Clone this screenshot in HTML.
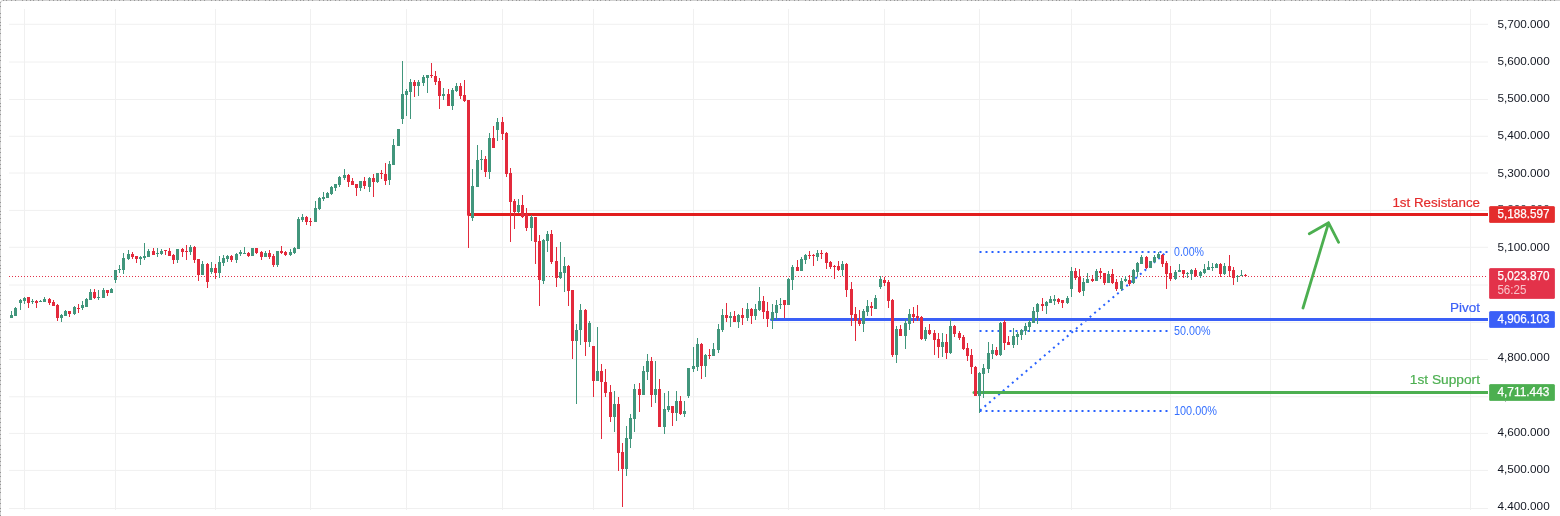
<!DOCTYPE html>
<html lang="en">
<head>
<meta charset="utf-8">
<title>Chart</title>
<style>
html,body{margin:0;padding:0;background:#fff;}
body{width:1560px;height:516px;overflow:hidden;font-family:"Liberation Sans",Arial,sans-serif;}
svg{display:block;}
</style>
</head>
<body>
<svg width="1560" height="516" viewBox="0 0 1560 516" font-family="Liberation Sans, Arial, sans-serif">
<rect x="0" y="0" width="1560" height="516" fill="#ffffff"/>
<!-- frame -->
<path d="M0.5 516V3Q0.5 0.5 3 0.5H1560" fill="none" stroke="#d2d2d2" stroke-width="1"/>
<path d="M0.5 516V3Q0.5 0.5 3 0.5H1560" fill="none" stroke="#969696" stroke-width="1" stroke-dasharray="1 3 1 2 1 4 1 3 1 6 1 3"/>
<!-- grid -->
<path d="M24.5 9V510M115.5 9V510M215.5 9V510M310.5 9V510M406.5 9V510M502.5 9V510M593.5 9V510M693.5 9V510M788.5 9V510M884.5 9V510M979.5 9V510M1071.5 9V510M1170.5 9V510M1270.5 9V510M1370.5 9V510M1470.5 9V510M9 508.5H1488M9 470.4H1488M9 433.4H1488M9 396.8H1488M9 359.5H1488M9 322.3H1488M9 285.0H1488M9 247.3H1488M9 210.4H1488M9 173.0H1488M9 136.3H1488M9 99.5H1488M9 62.0H1488M9 24.3H1488" stroke="#f0f0f0" stroke-width="1" fill="none"/>
<!-- last price line -->
<path d="M9 276.5H1488" stroke="#e3324a" stroke-width="1" stroke-dasharray="1 2" fill="none"/>
<!-- fib -->
<g stroke="#2962ff" stroke-width="2" stroke-dasharray="2 4" fill="none">
<path d="M979.5 252H1168"/>
<path d="M979.5 331H1168"/>
<path d="M979.5 411H1168"/>
<path d="M980 410.5L1166.5 252"/>
</g>
<g fill="#3570ff" font-size="12">
<text x="1174" y="256" textLength="30" lengthAdjust="spacingAndGlyphs">0.00%</text>
<text x="1174" y="335" textLength="36.5" lengthAdjust="spacingAndGlyphs">50.00%</text>
<text x="1174" y="415" textLength="43" lengthAdjust="spacingAndGlyphs">100.00%</text>
</g>
<!-- levels -->
<g fill="none" stroke-width="3" stroke-linecap="butt">
<path d="M468.5 214.5H1488" stroke="#e21e1e"/>
<path d="M771.5 319.5H1488" stroke="#3a5ff7"/>
<path d="M974 392.5H1488" stroke="#4caf50"/>
</g>
<circle cx="468.5" cy="214.5" r="1.5" fill="#e21e1e"/>
<circle cx="771.5" cy="319.5" r="1.5" fill="#3a5ff7"/>
<circle cx="974" cy="392.5" r="1.5" fill="#4caf50"/>
<!-- candles -->
<path d="M11 311h1V315h1V318h-1V318h-1V318h-1V315h1zM15 307h1V308h1V316h-1V316h-1V316h-1V308h1zM20 299h1V300h1V303h-1V310h-1V303h-1V300h1zM24 297h1V298h1V301h-1V304h-1V301h-1V298h1zM32 299h1V301h1V302h-1V304h-1V302h-1V301h1zM40 300h1V301h1V302h-1V302h-1V302h-1V301h1zM44 297h1V299h1V302h-1V302h-1V302h-1V299h1zM61 314h1V315h1V318h-1V322h-1V318h-1V315h1zM65 310h1V311h1V316h-1V316h-1V316h-1V311h1zM74 306h1V307h1V314h-1V315h-1V314h-1V307h1zM82 301h1V305h1V308h-1V310h-1V308h-1V305h1zM86 298h1V299h1V307h-1V307h-1V307h-1V299h1zM90 289h1V292h1V300h-1V300h-1V300h-1V292h1zM98 290h1V297h1V298h-1V300h-1V298h-1V297h1zM103 288h1V290h1V298h-1V298h-1V298h-1V290h1zM111 288h1V289h1V293h-1V293h-1V293h-1V289h1zM115 270h1V270h1V280h-1V283h-1V280h-1V270h1zM119 265h1V269h1V270h-1V273h-1V270h-1V269h1zM123 253h1V258h1V270h-1V274h-1V270h-1V258h1zM128 250h1V254h1V259h-1V260h-1V259h-1V254h1zM140 256h1V257h1V259h-1V265h-1V259h-1V257h1zM144 243h1V256h1V258h-1V260h-1V258h-1V256h1zM148 249h1V251h1V257h-1V257h-1V257h-1V251h1zM157 248h1V253h1V254h-1V257h-1V254h-1V253h1zM161 249h1V251h1V254h-1V255h-1V254h-1V251h1zM177 249h1V249h1V260h-1V263h-1V260h-1V249h1zM190 245h1V247h1V252h-1V255h-1V252h-1V247h1zM202 261h1V264h1V275h-1V275h-1V275h-1V264h1zM211 262h1V268h1V272h-1V274h-1V272h-1V268h1zM219 256h1V262h1V273h-1V278h-1V273h-1V262h1zM223 255h1V258h1V263h-1V266h-1V263h-1V258h1zM227 255h1V256h1V259h-1V262h-1V259h-1V256h1zM236 253h1V254h1V260h-1V263h-1V260h-1V254h1zM240 250h1V252h1V254h-1V256h-1V254h-1V252h1zM244 247h1V253h1V254h-1V254h-1V254h-1V253h1zM252 248h1V248h1V256h-1V256h-1V256h-1V248h1zM265 251h1V253h1V257h-1V257h-1V257h-1V253h1zM277 251h1V251h1V265h-1V267h-1V265h-1V251h1zM290 249h1V252h1V255h-1V256h-1V255h-1V252h1zM294 247h1V248h1V253h-1V254h-1V253h-1V248h1zM298 217h1V219h1V249h-1V249h-1V249h-1V219h1zM302 214h1V217h1V220h-1V222h-1V220h-1V217h1zM315 201h1V208h1V222h-1V222h-1V222h-1V208h1zM319 197h1V198h1V209h-1V210h-1V209h-1V198h1zM323 192h1V197h1V199h-1V201h-1V199h-1V197h1zM327 192h1V193h1V198h-1V198h-1V198h-1V193h1zM331 186h1V187h1V194h-1V195h-1V194h-1V187h1zM335 184h1V184h1V188h-1V191h-1V188h-1V184h1zM339 176h1V177h1V185h-1V187h-1V185h-1V177h1zM344 169h1V175h1V178h-1V180h-1V178h-1V175h1zM360 181h1V181h1V188h-1V191h-1V188h-1V181h1zM369 177h1V178h1V187h-1V192h-1V187h-1V178h1zM377 173h1V173h1V182h-1V183h-1V182h-1V173h1zM389 161h1V164h1V180h-1V185h-1V180h-1V164h1zM393 139h1V145h1V165h-1V165h-1V165h-1V145h1zM398 129h1V129h1V146h-1V146h-1V146h-1V129h1zM402 61h1V94h1V119h-1V124h-1V119h-1V94h1zM406 89h1V91h1V95h-1V116h-1V95h-1V91h1zM410 79h1V82h1V92h-1V119h-1V92h-1V82h1zM418 80h1V82h1V86h-1V96h-1V86h-1V82h1zM423 75h1V77h1V83h-1V86h-1V83h-1V77h1zM427 75h1V75h1V78h-1V93h-1V78h-1V75h1zM443 88h1V94h1V96h-1V100h-1V96h-1V94h1zM452 88h1V90h1V106h-1V110h-1V106h-1V90h1zM456 83h1V86h1V91h-1V92h-1V91h-1V86h1zM472 169h1V186h1V218h-1V221h-1V218h-1V186h1zM477 145h1V160h1V187h-1V187h-1V187h-1V160h1zM481 150h1V159h1V160h-1V170h-1V160h-1V159h1zM489 133h1V138h1V172h-1V179h-1V172h-1V138h1zM497 118h1V122h1V130h-1V141h-1V130h-1V122h1zM518 199h1V205h1V212h-1V213h-1V212h-1V205h1zM531 215h1V217h1V228h-1V241h-1V228h-1V217h1zM543 239h1V240h1V281h-1V284h-1V281h-1V240h1zM547 231h1V234h1V241h-1V252h-1V241h-1V234h1zM560 242h1V272h1V278h-1V279h-1V278h-1V272h1zM564 257h1V266h1V273h-1V292h-1V273h-1V266h1zM576 324h1V330h1V341h-1V404h-1V341h-1V330h1zM580 304h1V310h1V330h-1V345h-1V330h-1V310h1zM589 321h1V323h1V342h-1V347h-1V342h-1V323h1zM597 327h1V371h1V381h-1V381h-1V381h-1V371h1zM614 391h1V404h1V417h-1V432h-1V417h-1V404h1zM626 426h1V438h1V469h-1V476h-1V469h-1V438h1zM630 414h1V418h1V439h-1V448h-1V439h-1V418h1zM634 384h1V389h1V419h-1V432h-1V419h-1V389h1zM643 366h1V371h1V395h-1V395h-1V395h-1V371h1zM647 354h1V361h1V372h-1V380h-1V372h-1V361h1zM655 361h1V389h1V395h-1V403h-1V395h-1V389h1zM664 393h1V409h1V427h-1V434h-1V427h-1V409h1zM668 391h1V406h1V410h-1V412h-1V410h-1V406h1zM676 391h1V401h1V413h-1V421h-1V413h-1V401h1zM684 401h1V411h1V414h-1V417h-1V414h-1V411h1zM688 368h1V368h1V396h-1V398h-1V396h-1V368h1zM693 347h1V366h1V369h-1V372h-1V369h-1V366h1zM697 338h1V344h1V367h-1V371h-1V367h-1V344h1zM705 354h1V355h1V366h-1V377h-1V366h-1V355h1zM713 343h1V349h1V356h-1V356h-1V356h-1V349h1zM718 324h1V329h1V350h-1V353h-1V350h-1V329h1zM722 309h1V315h1V330h-1V332h-1V330h-1V315h1zM730 312h1V316h1V318h-1V327h-1V318h-1V316h1zM738 314h1V315h1V322h-1V328h-1V322h-1V315h1zM747 303h1V309h1V318h-1V321h-1V318h-1V309h1zM755 304h1V309h1V316h-1V320h-1V316h-1V309h1zM759 287h1V301h1V310h-1V311h-1V310h-1V301h1zM772 304h1V312h1V320h-1V329h-1V320h-1V312h1zM776 300h1V305h1V313h-1V320h-1V313h-1V305h1zM780 298h1V304h1V305h-1V309h-1V305h-1V304h1zM788 278h1V279h1V305h-1V305h-1V305h-1V279h1zM792 265h1V267h1V280h-1V290h-1V280h-1V267h1zM801 257h1V259h1V271h-1V271h-1V271h-1V259h1zM805 254h1V255h1V260h-1V264h-1V260h-1V255h1zM817 250h1V253h1V257h-1V261h-1V257h-1V253h1zM842 261h1V264h1V270h-1V276h-1V270h-1V264h1zM863 309h1V311h1V324h-1V332h-1V324h-1V311h1zM867 300h1V306h1V312h-1V316h-1V312h-1V306h1zM875 295h1V298h1V309h-1V309h-1V309h-1V298h1zM880 276h1V279h1V287h-1V289h-1V287h-1V279h1zM896 326h1V329h1V355h-1V363h-1V355h-1V329h1zM905 319h1V323h1V336h-1V349h-1V336h-1V323h1zM909 309h1V314h1V324h-1V330h-1V324h-1V314h1zM925 327h1V330h1V339h-1V341h-1V339h-1V330h1zM942 333h1V342h1V347h-1V357h-1V347h-1V342h1zM950 319h1V326h1V353h-1V354h-1V353h-1V326h1zM979 372h1V373h1V396h-1V413h-1V396h-1V373h1zM983 364h1V368h1V374h-1V398h-1V374h-1V368h1zM988 342h1V353h1V369h-1V373h-1V369h-1V353h1zM992 344h1V350h1V354h-1V359h-1V354h-1V350h1zM1000 322h1V323h1V355h-1V356h-1V355h-1V323h1zM1013 328h1V336h1V345h-1V348h-1V345h-1V336h1zM1017 332h1V334h1V337h-1V345h-1V337h-1V334h1zM1021 329h1V330h1V335h-1V340h-1V335h-1V330h1zM1025 323h1V326h1V331h-1V335h-1V331h-1V326h1zM1029 320h1V322h1V327h-1V332h-1V327h-1V322h1zM1033 307h1V311h1V323h-1V323h-1V323h-1V311h1zM1037 303h1V304h1V312h-1V324h-1V312h-1V304h1zM1046 301h1V302h1V306h-1V314h-1V306h-1V302h1zM1050 296h1V299h1V303h-1V303h-1V303h-1V299h1zM1054 295h1V299h1V301h-1V305h-1V301h-1V299h1zM1067 296h1V298h1V303h-1V304h-1V303h-1V298h1zM1071 267h1V271h1V289h-1V297h-1V289h-1V271h1zM1083 278h1V282h1V291h-1V296h-1V291h-1V282h1zM1087 273h1V279h1V283h-1V283h-1V283h-1V279h1zM1096 269h1V271h1V281h-1V281h-1V281h-1V271h1zM1108 271h1V274h1V283h-1V283h-1V283h-1V274h1zM1121 278h1V281h1V289h-1V291h-1V289h-1V281h1zM1125 276h1V279h1V281h-1V282h-1V281h-1V279h1zM1133 269h1V270h1V283h-1V284h-1V283h-1V270h1zM1137 262h1V263h1V272h-1V277h-1V272h-1V263h1zM1141 255h1V257h1V264h-1V264h-1V264h-1V257h1zM1150 261h1V261h1V268h-1V268h-1V268h-1V261h1zM1154 255h1V257h1V262h-1V263h-1V262h-1V257h1zM1158 252h1V254h1V258h-1V259h-1V258h-1V254h1zM1175 270h1V272h1V279h-1V280h-1V279h-1V272h1zM1179 264h1V270h1V272h-1V272h-1V272h-1V270h1zM1187 272h1V273h1V274h-1V278h-1V274h-1V273h1zM1191 269h1V270h1V274h-1V280h-1V274h-1V270h1zM1200 271h1V272h1V276h-1V278h-1V276h-1V272h1zM1204 264h1V269h1V273h-1V274h-1V273h-1V269h1zM1208 261h1V267h1V270h-1V270h-1V270h-1V267h1zM1212 263h1V267h1V268h-1V271h-1V268h-1V267h1zM1216 263h1V264h1V268h-1V268h-1V268h-1V264h1zM1224 263h1V266h1V274h-1V275h-1V274h-1V266h1zM1237 275h1V276h1V277h-1V282h-1V277h-1V276h1zM1241 270h1V275h1V276h-1V276h-1V276h-1V275h1z" fill="#41967c"/>
<path d="M28 297h1V297h1V303h-1V308h-1V303h-1V297h1zM36 300h1V301h1V303h-1V308h-1V303h-1V301h1zM49 298h1V299h1V303h-1V305h-1V303h-1V299h1zM53 300h1V302h1V306h-1V306h-1V306h-1V302h1zM57 304h1V305h1V318h-1V321h-1V318h-1V305h1zM69 311h1V311h1V314h-1V317h-1V314h-1V311h1zM78 304h1V308h1V309h-1V313h-1V309h-1V308h1zM94 289h1V292h1V298h-1V299h-1V298h-1V292h1zM107 290h1V290h1V293h-1V296h-1V293h-1V290h1zM132 252h1V254h1V257h-1V259h-1V257h-1V254h1zM136 256h1V256h1V259h-1V263h-1V259h-1V256h1zM153 248h1V251h1V255h-1V255h-1V255h-1V251h1zM165 250h1V250h1V251h-1V255h-1V251h-1V250h1zM169 248h1V251h1V256h-1V256h-1V256h-1V251h1zM173 254h1V255h1V260h-1V264h-1V260h-1V255h1zM182 248h1V249h1V252h-1V257h-1V252h-1V249h1zM186 245h1V251h1V252h-1V260h-1V252h-1V251h1zM194 246h1V247h1V260h-1V263h-1V260h-1V247h1zM198 259h1V259h1V275h-1V281h-1V275h-1V259h1zM207 263h1V264h1V282h-1V288h-1V282h-1V264h1zM215 264h1V268h1V273h-1V279h-1V273h-1V268h1zM231 255h1V256h1V260h-1V262h-1V260h-1V256h1zM248 252h1V253h1V256h-1V257h-1V256h-1V253h1zM256 248h1V248h1V253h-1V254h-1V253h-1V248h1zM261 251h1V252h1V257h-1V260h-1V257h-1V252h1zM269 250h1V253h1V257h-1V259h-1V257h-1V253h1zM273 254h1V256h1V265h-1V267h-1V265h-1V256h1zM281 246h1V251h1V253h-1V254h-1V253h-1V251h1zM285 251h1V252h1V255h-1V256h-1V255h-1V252h1zM306 216h1V217h1V222h-1V225h-1V222h-1V217h1zM310 218h1V221h1V222h-1V226h-1V222h-1V221h1zM348 174h1V175h1V182h-1V187h-1V182h-1V175h1zM352 178h1V181h1V185h-1V185h-1V185h-1V181h1zM356 184h1V184h1V188h-1V196h-1V188h-1V184h1zM364 177h1V181h1V186h-1V189h-1V186h-1V181h1zM373 174h1V178h1V182h-1V197h-1V182h-1V178h1zM381 170h1V173h1V174h-1V179h-1V174h-1V173h1zM385 163h1V174h1V181h-1V185h-1V181h-1V174h1zM414 80h1V82h1V86h-1V97h-1V86h-1V82h1zM431 63h1V75h1V76h-1V78h-1V76h-1V75h1zM435 71h1V76h1V82h-1V85h-1V82h-1V76h1zM439 78h1V81h1V96h-1V109h-1V96h-1V81h1zM448 89h1V94h1V106h-1V106h-1V106h-1V94h1zM460 83h1V86h1V96h-1V99h-1V96h-1V86h1zM464 80h1V95h1V101h-1V102h-1V101h-1V95h1zM468 100h1V100h1V215h-1V248h-1V215h-1V100h1zM485 156h1V159h1V172h-1V177h-1V172h-1V159h1zM493 126h1V138h1V148h-1V148h-1V148h-1V138h1zM502 117h1V122h1V134h-1V140h-1V134h-1V122h1zM506 132h1V133h1V174h-1V177h-1V174h-1V133h1zM510 168h1V173h1V202h-1V242h-1V202h-1V173h1zM514 199h1V201h1V212h-1V229h-1V212h-1V201h1zM522 195h1V205h1V217h-1V218h-1V217h-1V205h1zM526 208h1V214h1V228h-1V231h-1V228h-1V214h1zM535 217h1V217h1V242h-1V264h-1V242h-1V217h1zM539 235h1V241h1V280h-1V306h-1V280h-1V241h1zM551 230h1V234h1V262h-1V264h-1V262h-1V234h1zM556 247h1V261h1V278h-1V287h-1V278h-1V261h1zM568 265h1V266h1V291h-1V306h-1V291h-1V266h1zM572 290h1V290h1V341h-1V359h-1V341h-1V290h1zM585 309h1V310h1V342h-1V356h-1V342h-1V310h1zM593 346h1V346h1V381h-1V397h-1V381h-1V346h1zM601 364h1V371h1V382h-1V439h-1V382h-1V371h1zM605 369h1V382h1V393h-1V397h-1V393h-1V382h1zM610 385h1V392h1V417h-1V422h-1V417h-1V392h1zM618 397h1V404h1V453h-1V471h-1V453h-1V404h1zM622 443h1V452h1V469h-1V507h-1V469h-1V452h1zM639 383h1V389h1V395h-1V412h-1V395h-1V389h1zM651 357h1V361h1V395h-1V407h-1V395h-1V361h1zM659 379h1V389h1V427h-1V427h-1V427h-1V389h1zM672 406h1V406h1V413h-1V426h-1V413h-1V406h1zM680 396h1V401h1V414h-1V415h-1V414h-1V401h1zM701 343h1V344h1V366h-1V379h-1V366h-1V344h1zM709 349h1V355h1V356h-1V359h-1V356h-1V355h1zM726 303h1V315h1V318h-1V322h-1V318h-1V315h1zM734 311h1V316h1V322h-1V322h-1V322h-1V316h1zM742 308h1V315h1V318h-1V325h-1V318h-1V315h1zM751 308h1V309h1V316h-1V324h-1V316h-1V309h1zM763 296h1V301h1V312h-1V319h-1V312h-1V301h1zM767 302h1V311h1V319h-1V327h-1V319h-1V311h1zM784 300h1V300h1V305h-1V318h-1V305h-1V300h1zM797 260h1V267h1V271h-1V271h-1V271h-1V267h1zM809 251h1V255h1V256h-1V259h-1V256h-1V255h1zM813 254h1V255h1V256h-1V266h-1V256h-1V255h1zM821 250h1V253h1V254h-1V259h-1V254h-1V253h1zM826 252h1V253h1V263h-1V269h-1V263h-1V253h1zM830 261h1V262h1V267h-1V269h-1V267h-1V262h1zM834 265h1V266h1V267h-1V279h-1V267h-1V266h1zM838 261h1V266h1V270h-1V271h-1V270h-1V266h1zM846 263h1V264h1V290h-1V297h-1V290h-1V264h1zM851 282h1V289h1V315h-1V326h-1V315h-1V289h1zM855 307h1V314h1V321h-1V341h-1V321h-1V314h1zM859 310h1V320h1V324h-1V326h-1V324h-1V320h1zM871 302h1V306h1V308h-1V316h-1V308h-1V306h1zM884 277h1V280h1V283h-1V286h-1V283h-1V280h1zM888 280h1V282h1V301h-1V308h-1V301h-1V282h1zM892 299h1V300h1V355h-1V357h-1V355h-1V300h1zM900 325h1V329h1V336h-1V336h-1V336h-1V329h1zM913 307h1V314h1V317h-1V323h-1V317h-1V314h1zM917 305h1V316h1V318h-1V321h-1V318h-1V316h1zM921 316h1V317h1V339h-1V340h-1V339h-1V317h1zM929 324h1V330h1V334h-1V335h-1V334h-1V330h1zM934 330h1V333h1V340h-1V355h-1V340h-1V333h1zM938 333h1V339h1V347h-1V358h-1V347h-1V339h1zM946 334h1V342h1V353h-1V359h-1V353h-1V342h1zM954 325h1V326h1V334h-1V337h-1V334h-1V326h1zM959 331h1V333h1V338h-1V340h-1V338h-1V333h1zM963 335h1V337h1V349h-1V350h-1V349h-1V337h1zM967 343h1V348h1V356h-1V361h-1V356h-1V348h1zM971 349h1V355h1V367h-1V374h-1V367h-1V355h1zM975 366h1V367h1V396h-1V396h-1V396h-1V367h1zM996 347h1V350h1V355h-1V356h-1V355h-1V350h1zM1004 320h1V322h1V343h-1V350h-1V343h-1V322h1zM1008 336h1V342h1V345h-1V345h-1V345h-1V342h1zM1042 298h1V304h1V306h-1V311h-1V306h-1V304h1zM1058 298h1V299h1V302h-1V304h-1V302h-1V299h1zM1062 300h1V300h1V303h-1V308h-1V303h-1V300h1zM1075 268h1V271h1V278h-1V280h-1V278h-1V271h1zM1079 269h1V277h1V292h-1V293h-1V292h-1V277h1zM1092 275h1V279h1V281h-1V282h-1V281h-1V279h1zM1100 268h1V271h1V273h-1V279h-1V273h-1V271h1zM1104 273h1V273h1V283h-1V285h-1V283h-1V273h1zM1112 269h1V274h1V283h-1V284h-1V283h-1V274h1zM1116 279h1V282h1V289h-1V291h-1V289h-1V282h1zM1129 275h1V280h1V284h-1V286h-1V284h-1V280h1zM1146 256h1V257h1V268h-1V269h-1V268h-1V257h1zM1162 254h1V255h1V264h-1V267h-1V264h-1V255h1zM1166 261h1V263h1V274h-1V289h-1V274h-1V263h1zM1170 266h1V273h1V279h-1V281h-1V279h-1V273h1zM1183 270h1V270h1V274h-1V278h-1V274h-1V270h1zM1195 268h1V270h1V276h-1V277h-1V276h-1V270h1zM1220 263h1V264h1V274h-1V277h-1V274h-1V264h1zM1229 255h1V266h1V271h-1V277h-1V271h-1V266h1zM1233 267h1V270h1V278h-1V285h-1V278h-1V270h1zM1245 274h1V275h1V276h-1V276h-1V276h-1V275h1z" fill="#e32a3c"/>
<g font-size="13.3" text-anchor="end">
<text x="1480" y="207" fill="#e42c2c" stroke="#e42c2c" stroke-width="0.2" textLength="87.6" lengthAdjust="spacingAndGlyphs">1st Resistance</text>
<text x="1480" y="312" fill="#3a5ff7" stroke="#3a5ff7" stroke-width="0.2" textLength="30" lengthAdjust="spacingAndGlyphs">Pivot</text>
<text x="1480" y="384" fill="#4caf50" stroke="#4caf50" stroke-width="0.2" textLength="70.2" lengthAdjust="spacingAndGlyphs">1st Support</text>
</g>
<!-- arrow -->
<path d="M1303 308L1328.6 222.8M1309.3 233.7L1328.6 222.8L1338.6 242.3" fill="none" stroke="#4caf50" stroke-width="2.8" stroke-linecap="round" stroke-linejoin="round"/>
<!-- price axis -->
<g clip-path="url(#axclip)">
<g fill="#131722" font-size="11.8">
<text x="1497.4" y="510.2" textLength="52.3" lengthAdjust="spacingAndGlyphs">4,400.000</text>
<text x="1497.4" y="473.3" textLength="52.3" lengthAdjust="spacingAndGlyphs">4,500.000</text>
<text x="1497.4" y="436.3" textLength="52.3" lengthAdjust="spacingAndGlyphs">4,600.000</text>
<text x="1497.4" y="399.7" textLength="52.3" lengthAdjust="spacingAndGlyphs">4,700.000</text>
<text x="1497.4" y="361.4" textLength="52.3" lengthAdjust="spacingAndGlyphs">4,800.000</text>
<text x="1497.4" y="325.2" textLength="52.3" lengthAdjust="spacingAndGlyphs">4,900.000</text>
<text x="1497.4" y="288.0" textLength="52.3" lengthAdjust="spacingAndGlyphs">5,000.000</text>
<text x="1497.4" y="250.8" textLength="52.3" lengthAdjust="spacingAndGlyphs">5,100.000</text>
<text x="1497.4" y="212.8" textLength="52.3" lengthAdjust="spacingAndGlyphs">5,200.000</text>
<text x="1497.4" y="176.6" textLength="52.3" lengthAdjust="spacingAndGlyphs">5,300.000</text>
<text x="1497.4" y="138.8" textLength="52.3" lengthAdjust="spacingAndGlyphs">5,400.000</text>
<text x="1497.4" y="101.8" textLength="52.3" lengthAdjust="spacingAndGlyphs">5,500.000</text>
<text x="1497.4" y="64.5" textLength="52.3" lengthAdjust="spacingAndGlyphs">5,600.000</text>
<text x="1497.4" y="27.5" textLength="52.3" lengthAdjust="spacingAndGlyphs">5,700.000</text>
</g>
</g>
<defs><clipPath id="axclip"><rect x="1488" y="0" width="72" height="510"/></clipPath></defs>
<g font-size="12.5" fill="#ffffff" stroke="#ffffff" stroke-width="0.25">
<rect x="1489" y="206" width="66" height="17" rx="1.5" fill="#e42c2c"/>
<text x="1497.4" y="217.9" textLength="52" lengthAdjust="spacingAndGlyphs">5,188.597</text>
<rect x="1489" y="268" width="66" height="31" rx="1.5" fill="#e3324a"/>
<text x="1497.4" y="279.8" textLength="52" lengthAdjust="spacingAndGlyphs">5,023.870</text>
<text x="1497.4" y="293.8" fill="#f8c3ca" stroke="none" textLength="29" lengthAdjust="spacingAndGlyphs">56:25</text>
<rect x="1489" y="311" width="66" height="17" rx="1.5" fill="#3a5ff7"/>
<text x="1497.4" y="322.9" textLength="52" lengthAdjust="spacingAndGlyphs">4,906.103</text>
<rect x="1489" y="384" width="66" height="17" rx="1.5" fill="#4caf50"/>
<text x="1497.4" y="395.8" textLength="52" lengthAdjust="spacingAndGlyphs">4,711.443</text>
</g>
</svg>
</body>
</html>
